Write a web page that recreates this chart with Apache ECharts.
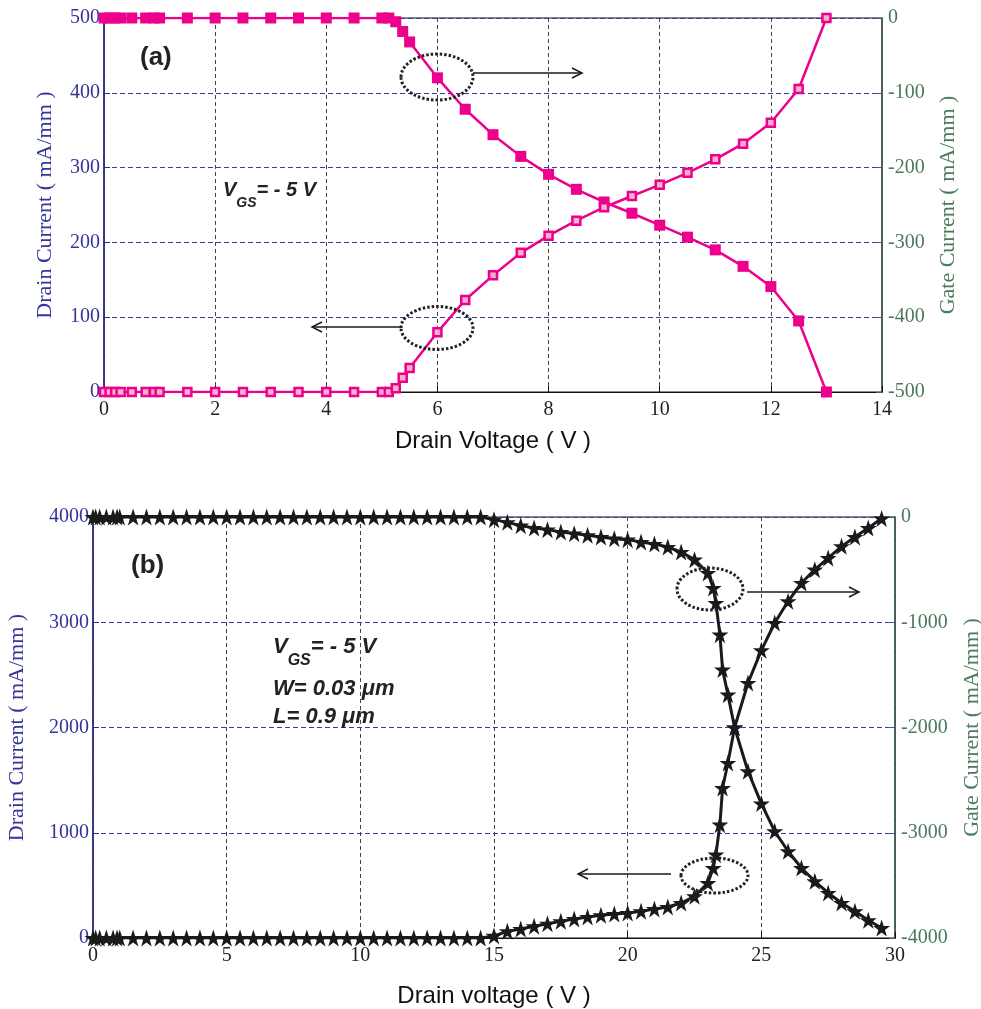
<!DOCTYPE html>
<html><head><meta charset="utf-8">
<script src="https://cdn.jsdelivr.net/npm/echarts@6/dist/echarts.min.js"></script>
<style>html,body{margin:0;padding:0;background:#fff}#c{width:981px;height:1009px}</style>
</head><body><div id="c"></div>
<script>
// ---------- Panel (a) data ----------
const voltA  = [0,0.1,0.2,0.3,0.5,0.75,0.9,1.0,1.5,2,2.5,3,3.5,4,4.5,5,5.125,5.25,5.375,5.5,6,6.5,7,7.5,8,8.5,9,9.5,10,10.5,11,11.5,12,12.5,13];
const drainA = [0,0,0,0,0,0,0,0,0,0,0,0,0,0,0,0,0,5,19,32,80,123,156,186,209,229,247,262,277,293,311,332,360,405,500];
const gateA  = [0,0,0,0,0,0,0,0,0,0,0,0,0,0,0,0,0,-5,-18,-32,-80,-122,-156,-185,-209,-229,-246,-261,-277,-293,-310,-332,-359,-405,-500];
// ---------- Panel (b) data ----------
const voltB  = [0,0.1,0.25,0.5,0.75,0.9,1,1.5,2,2.5,3,3.5,4,4.5,5,5.5,6,6.5,7,7.5,8,8.5,9,9.5,10,10.5,11,11.5,12,12.5,13,13.5,14,14.5,
                15,15.5,16,16.5,17,17.5,18,18.5,19,19.5,20,20.5,21,21.5,22,22.5,23,23.2,23.3,23.45,23.55,23.75,24,24.5,25,25.5,26,26.5,27,27.5,28,28.5,29,29.5];
const drainB = [0,0,0,0,0,0,0,0,0,0,0,0,0,0,0,0,0,0,0,0,0,0,0,0,0,0,0,0,0,0,0,0,0,0,
                20,63,85,111,136,158,180,200,215,228,237,253,275,295,332,396,522,665,792,1077,1425,1663,2000,2423,2733,2993,3199,3373,3500,3610,3721,3810,3895,3985];
const gateB  = [0,0,0,0,0,0,0,0,0,0,0,0,0,0,0,0,0,0,0,0,0,0,0,0,0,0,0,0,0,0,0,0,0,0,
                -25,-51,-82,-105,-120,-143,-158,-174,-190,-206,-215,-238,-257,-285,-333,-405,-532,-675,-817,-1118,-1450,-1688,-2000,-2416,-2723,-2986,-3176,-3335,-3461,-3572,-3667,-3746,-3832,-3905];
// ---------- axis ranges / ticks ----------
const xAxisA = {min:0, max:14, interval:2};
const yLeftA = {min:0, max:500, interval:100};
const yRightA = {min:-500, max:0, interval:100};
const xAxisB = {min:0, max:30, interval:5};
const yLeftB = {min:0, max:4000, interval:1000};
const yRightB = {min:-4000, max:0, interval:1000};

const pair = (xs, ys) => xs.map((x,i)=>[x, ys[i]]);

const BLUE = '#34349a', GREEN = '#4a7a5c', PINK = '#ec008c', BLACK = '#1a1a1a';
const SERIF = 'Liberation Serif', SANS = 'Liberation Sans';
const STAR = 'path://M50,0 L61.8,36 L99,36 L69,58 L80.5,95 L50,72 L19.5,95 L31,58 L1,36 L38.2,36 Z';
const plain = v => String(v);

function xAx(gi, r, name, gap) {
  return {type:'value', gridIndex:gi, min:r.min, max:r.max, interval:r.interval,
    name:name, nameLocation:'middle', nameGap:gap,
    nameTextStyle:{fontFamily:SANS, fontSize:24, color:'#111'},
    axisLine:{show:true, lineStyle:{color:'#111', width:1.2}},
    axisTick:{show:true, inside:true, length:6, lineStyle:{color:'#111'}},
    axisLabel:{fontFamily:SERIF, fontSize:20, color:'#222', margin:8, formatter:plain},
    splitLine:{show:true, lineStyle:{color:'#444', type:[4,3], width:1}}};
}
function yAx(gi, r, name, pos, color, lineColor, gap, split) {
  return {type:'value', gridIndex:gi, min:r.min, max:r.max, interval:r.interval, position:pos,
    name:name, nameLocation:'middle', nameGap:gap, nameRotate:90,
    nameTextStyle:{fontFamily:SERIF, fontSize:22, color:color},
    axisLine:{show:true, onZero:false, lineStyle:{color:lineColor, width:1.5}},
    axisTick:{show:true, inside:true, length:6, lineStyle:{color:lineColor}},
    axisLabel:{fontFamily:SERIF, fontSize:20, color:color, margin:pos==='left'?4:6, formatter:plain},
    splitLine:{show:split, lineStyle:{color:'#3a3aa8', type:[5,3], width:1}}};
}

function arrow(x1, y1, x2, y2) {
  const d = x2 > x1 ? 1 : -1;
  return [
    {type:'line', shape:{x1, y1, x2, y2}, style:{stroke:BLACK, lineWidth:1.5}, z:100},
    {type:'polyline', shape:{points:[[x2-10*d, y2-5],[x2, y2],[x2-10*d, y2+5]]}, style:{stroke:BLACK, lineWidth:1.5, fill:null}, z:100}
  ];
}
function ell(cx, cy, rx, ry) {
  return {type:'ellipse', shape:{cx, cy, rx, ry}, style:{stroke:'#222', lineWidth:3, lineDash:[2.5,2], fill:null}, z:100};
}
const bi = {fontFamily:SANS, fontWeight:'bold', fontStyle:'italic', fill:'#222'};
function vgs(x, y, fs) {
  return {type:'text', x, y, z:100, style:{text:'{v|V}{s|GS}{v|= - 5 V}', fill:'#222',
    rich:{v:Object.assign({fontSize:fs, verticalAlign:'top', lineHeight:fs*1.5}, bi),
          s:Object.assign({fontSize:Math.round(fs*0.72), verticalAlign:'bottom', lineHeight:fs*1.5}, bi)}}};
}

const option = {
  animation:false,
  backgroundColor:'#fff',
  grid:[
    {left:104, top:18, width:778, height:374, show:true, borderColor:'#111', borderWidth:1.2, backgroundColor:'transparent', outerBoundsMode:'none', containLabel:false},
    {left:93, top:517, width:802, height:421, show:true, borderColor:'#111', borderWidth:1.2, backgroundColor:'transparent', outerBoundsMode:'none', containLabel:false}
  ],
  xAxis:[ xAx(0, xAxisA, 'Drain Voltage ( V )', 37), xAx(1, xAxisB, 'Drain voltage ( V )', 46) ],
  yAxis:[
    yAx(0, yLeftA, 'Drain Current ( mA/mm )', 'left', BLUE, '#2a2a90', 48, true),
    yAx(0, yRightA, 'Gate Current ( mA/mm )', 'right', GREEN, '#46605a', 55, false),
    yAx(1, yLeftB, 'Drain Current ( mA/mm )', 'left', BLUE, '#2a2a90', 65, true),
    yAx(1, yRightB, 'Gate Current ( mA/mm )', 'right', GREEN, '#46605a', 66, false)
  ],
  series:[
    {type:'line', xAxisIndex:0, yAxisIndex:1, data:pair(voltA, gateA), symbol:'rect', symbolSize:11,
     lineStyle:{color:PINK, width:2.5}, itemStyle:{color:PINK}, z:5},
    {type:'line', xAxisIndex:0, yAxisIndex:0, data:pair(voltA, drainA), symbol:'rect', symbolSize:8,
     lineStyle:{color:PINK, width:2.5}, itemStyle:{color:'#f6b2cc', borderColor:PINK, borderWidth:2.5}, z:6},
    {type:'line', xAxisIndex:1, yAxisIndex:3, data:pair(voltB, gateB), symbol:STAR, symbolSize:17,
     lineStyle:{color:BLACK, width:3}, itemStyle:{color:BLACK}, z:5},
    {type:'line', xAxisIndex:1, yAxisIndex:2, data:pair(voltB, drainB), symbol:STAR, symbolSize:17,
     lineStyle:{color:BLACK, width:3}, itemStyle:{color:BLACK}, z:6}
  ],
  graphic:[
    {type:'text', x:140, y:45, z:100, style:Object.assign({text:'(a)', fontSize:26}, bi, {fontStyle:'normal'})},
    vgs(223, 180, 20),
    ell(437, 77, 36, 23), ...arrow(473, 73, 582, 73),
    ell(437, 328, 36, 21.5), ...arrow(402, 327, 312, 327),
    {type:'text', x:131, y:553, z:100, style:Object.assign({text:'(b)', fontSize:26}, bi, {fontStyle:'normal'})},
    vgs(273, 636, 22),
    {type:'text', x:273, y:678, z:100, style:Object.assign({text:'W= 0.03 μm', fontSize:22}, bi)},
    {type:'text', x:273, y:706, z:100, style:Object.assign({text:'L= 0.9 μm', fontSize:22}, bi)},
    ell(710, 589, 33, 21), ...arrow(747, 592, 859, 592),
    ell(714.5, 875.5, 33.5, 17.5), ...arrow(671, 874, 578, 874)
  ]
};
const chart = echarts.init(document.getElementById('c'), null, {renderer:'canvas', width:981, height:1009});
chart.setOption(option);
</script></body></html>
